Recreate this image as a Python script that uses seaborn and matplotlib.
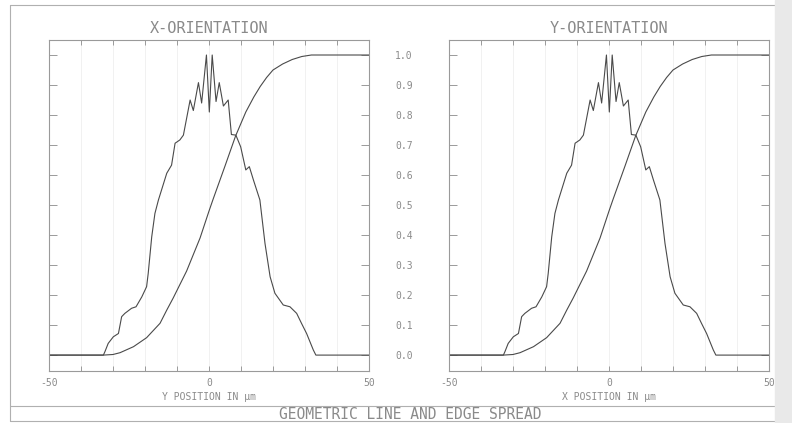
import matplotlib
matplotlib.use("Agg")
import matplotlib.pyplot as plt
from matplotlib.lines import Line2D
from matplotlib.patches import Rectangle
import seaborn as sns

# line spread, position in um
lsf_x = [-50, -33, -32.5, -31.5, -29.9, -28.3, -27.3, -26.3, -24.2, -22.8, -21, -19.5, -19,
         -17.9, -16.9, -15.8, -13.2, -11.7, -10.6, -9.1, -8, -5.9, -4.9, -3.3, -2.3,
         -0.8, 0.1, 1.0, 2.2, 3.2, 4.5, 6.0, 7.0, 8.4, 9.9, 11.5, 12.6, 13.9, 15.9,
         17.5, 19.1, 20.6, 23.2, 25.3, 27.4, 28.9, 30.5, 32.6, 33.4, 50]
lsf_y = [0, 0, 0.012, 0.039, 0.061, 0.072, 0.128, 0.139, 0.156, 0.161, 0.194, 0.228, 0.272,
         0.394, 0.472, 0.517, 0.606, 0.633, 0.706, 0.717, 0.733, 0.85, 0.815, 0.908, 0.84,
         1.0, 0.81, 1.0, 0.845, 0.908, 0.83, 0.85, 0.735, 0.733, 0.694, 0.617, 0.628, 0.583, 0.517,
         0.372, 0.261, 0.206, 0.167, 0.161, 0.139, 0.106, 0.072, 0.017, 0, 0]

# edge spread
esf_x = [-50, -33, -30, -27.8, -23.6, -19.5, -15.3, -13.2, -11.2, -7, -2.8, 0, 1.3, 5,
         8.3, 11.5, 14, 16, 18, 20, 23, 26, 29, 32, 50]
esf_y = [0, 0, 0.002, 0.008, 0.028, 0.058, 0.106, 0.15, 0.19, 0.28, 0.39, 0.48, 0.52, 0.63,
         0.73, 0.81, 0.86, 0.895, 0.925, 0.95, 0.97, 0.985, 0.995, 1.0, 1.0]

panel_titles = ["X-ORIENTATION", "Y-ORIENTATION"]
panel_xlabels = ["Y POSITION IN µm", "X POSITION IN µm"]
xtick_vals = [-50, -40, -30, -20, -10, 0, 10, 20, 30, 40, 50]
xtick_labels = ["-50", "", "", "", "", "0", "", "", "", "", "50"]
ytick_vals = [0.0, 0.1, 0.2, 0.3, 0.4, 0.5, 0.6, 0.7, 0.8, 0.9, 1.0]
ytick_labels = ["0.0", "0.1", "0.2", "0.3", "0.4", "0.5", "0.6", "0.7", "0.8", "0.9", "1.0"]
main_title = "GEOMETRIC LINE AND EDGE SPREAD"

sns.set_theme(style="white")
plt.rcParams['font.family'] = ['DejaVu Sans Mono', 'DejaVu Sans']

W, H = 792, 423
fig = plt.figure(figsize=(W / 100, H / 100), dpi=100)
line_c = "#4a4a4a"
frame_c = "#9a9a9a"
text_c = "#8a8a8a"

lefts = [49, 449]
for i, left in enumerate(lefts):
    ax = fig.add_axes([left / W, (H - 371) / H, 320 / W, 331 / H])
    for xv in xtick_vals[1:-1]:
        ax.axvline(xv, color="#efefef", lw=0.6, zorder=0)
    sns.lineplot(x=lsf_x, y=lsf_y, ax=ax, color=line_c, lw=0.8, estimator=None, sort=False)
    sns.lineplot(x=esf_x, y=esf_y, ax=ax, color=line_c, lw=0.8, estimator=None, sort=False)
    ax.set_xlim(-50, 50)
    ax.set_ylim(-0.053, 1.05)
    ax.set_xticks(xtick_vals)
    ax.set_xticklabels(xtick_labels)
    ax.set_yticks(ytick_vals)
    ax.tick_params(axis="x", direction="in", length=3.6, width=0.7, top=True, bottom=True,
                   color=frame_c, labelcolor=text_c, labelsize=7, pad=5)
    ax.tick_params(axis="y", direction="in", length=5.8, width=0.7, left=True, right=True,
                   color=frame_c, labelcolor=text_c, labelsize=7, labelleft=False)
    if i == 1:
        ax.set_yticklabels(ytick_labels)
        ax.tick_params(axis="y", labelleft=True, pad=26)
    for sp in ax.spines.values():
        sp.set_color(frame_c)
        sp.set_linewidth(0.8)
    ax.set_title(panel_titles[i], color=text_c, fontsize=11, pad=5)
    ax.set_xlabel(panel_xlabels[i], color=text_c, fontsize=7, labelpad=3)
    ax.set_ylabel("")

# outer frame of the plot sheet
fc = "#b0b0b0"
fig.add_artist(Line2D([10 / W, 10 / W], [1 - 5 / H, 1 - 421 / H], color=fc, lw=0.8))
fig.add_artist(Line2D([10 / W, 1], [1 - 5 / H, 1 - 5 / H], color=fc, lw=0.8))
fig.add_artist(Line2D([10 / W, 1], [1 - 406 / H, 1 - 406 / H], color=fc, lw=0.8))
fig.add_artist(Line2D([10 / W, 1], [1 - 421 / H, 1 - 421 / H], color=fc, lw=0.8))
fig.text(410 / W, 1 - 418.5 / H, main_title, ha="center", va="baseline", color=text_c, fontsize=10.5)

# page shadow on the right edge
fig.patches.append(Rectangle((775 / W, 0), 17 / W, 1, transform=fig.transFigure,
                             color="#e9e9e9", zorder=5))

fig.savefig("out.png", dpi=100)
